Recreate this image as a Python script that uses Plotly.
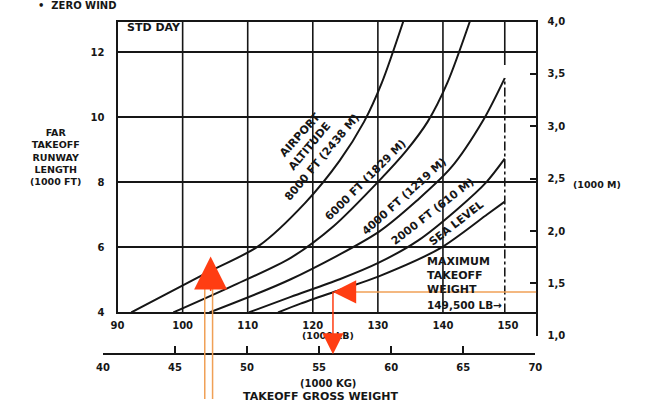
import plotly.graph_objects as go

# ---- data -------------------------------------------------------------
# takeoff gross weight (1000 lb) and FAR takeoff runway length (1000 ft)
alt_8000_wt = [92.10, 104.13, 111.65, 118.87, 124.13, 127.89, 130.60, 133.90]
alt_8000_len = [4.00, 5.26, 6.04, 7.38, 8.67, 9.87, 11.06, 12.95]

alt_6000_wt = [98.57, 107.59, 116.61, 123.23, 130.14, 134.35, 137.66, 140.67, 144.13]
alt_6000_len = [4.00, 4.81, 5.68, 6.66, 8.04, 8.97, 9.87, 11.06, 12.95]

alt_4000_wt = [104.13, 116.61, 130.14, 136.16, 141.27, 146.23, 149.5]
alt_4000_len = [4.00, 5.02, 6.48, 7.47, 8.46, 9.93, 11.21]

alt_2000_wt = [110.15, 116.61, 124.13, 130.14, 136.16, 142.17, 146.68, 149.5]
alt_2000_len = [4.00, 4.48, 5.02, 5.53, 6.21, 7.17, 8.01, 8.73]

sea_level_wt = [114.66, 118.12, 124.13, 130.14, 139.62, 146.83, 149.5]
sea_level_len = [4.00, 4.27, 4.69, 5.11, 5.98, 7.02, 7.41]

lb_ticks = [90, 100, 110, 120, 130, 140, 150]
lb_grid = [100, 110, 120, 130, 140]
ft_ticks = [4, 6, 8, 10, 12]
m_ticks = [1.0, 1.5, 2.0, 2.5, 3.0, 3.5, 4.0]
m_labels = ["1,0", "1,5", "2,0", "2,5", "3,0", "3,5", "4,0"]
kg_ticks = [40, 45, 50, 55, 60, 65, 70]

max_takeoff_wt = 149.5

# example reading: weight entry (lb) -> runway length, runway -> weight (kg)
entry_wt = [103.4, 104.6]
entry_tip = (104.3, 5.72)
runway_entry_len = 4.63
runway_entry_wt = 123.1

# ---- layout helpers ---------------------------------------------------
W, H = 649, 405
INK = "#161616"
FONT = "DejaVu Sans, Verdana, sans-serif"
ORANGE = "#f0a056"
RED = "#ff3d12"
LB_RANGE = [90, 154.35]
FT_RANGE = [4, 12.95]


def px(x, y):
    return x / W, 1 - y / H


fig = go.Figure()

curves = [
    (alt_8000_wt, alt_8000_len),
    (alt_6000_wt, alt_6000_len),
    (alt_4000_wt, alt_4000_len),
    (alt_2000_wt, alt_2000_len),
    (sea_level_wt, sea_level_len),
]
for wt, ln in curves:
    fig.add_trace(go.Scatter(x=wt, y=ln, mode="lines",
                             line=dict(color=INK, width=2, shape="spline", smoothing=0.8),
                             hoverinfo="skip", showlegend=False, cliponaxis=True))

# invisible carriers for the metric axes
fig.add_trace(go.Scatter(x=[90], y=[1.0], xaxis="x2", yaxis="y2", mode="markers",
                         marker=dict(opacity=0), showlegend=False, hoverinfo="skip"))
fig.add_trace(go.Scatter(x=[40], y=[0], xaxis="x3", yaxis="y3", mode="markers",
                         marker=dict(opacity=0), showlegend=False, hoverinfo="skip"))

x_dom = [113 / W, 541 / W]
tickfont = dict(family=FONT, size=10, color=INK, weight="bold")

fig.update_layout(
    width=W, height=H,
    margin=dict(l=0, r=0, t=0, b=0),
    paper_bgcolor="white", plot_bgcolor="rgba(0,0,0,0)",
    showlegend=False,
    xaxis=dict(domain=x_dom, range=LB_RANGE, tickvals=lb_ticks,
               showgrid=False, zeroline=False, showline=True, mirror=True,
               linecolor=INK, linewidth=2.2, ticks="", tickfont=tickfont,
               ticklabelstandoff=2, anchor="y"),
    yaxis=dict(domain=[1 - 316 / H, 1 - 17 / H], range=FT_RANGE, tickvals=ft_ticks,
               showgrid=True, gridcolor=INK, gridwidth=1.6, zeroline=False,
               showline=True, mirror=True, linecolor=INK, linewidth=2.2, ticks="",
               tickfont=tickfont, ticklabelstandoff=9, anchor="x"),
    xaxis2=dict(domain=x_dom, range=LB_RANGE, visible=False, anchor="y2"),
    yaxis2=dict(domain=[1 - 340 / H, 1 - 17 / H], range=[1.0, 4.0], side="right",
                anchor="x2", tickvals=m_ticks, ticktext=m_labels, showgrid=False,
                zeroline=False, showline=True, linecolor=INK, linewidth=2.2,
                ticks="inside", ticklen=6, tickwidth=2, tickcolor=INK,
                tickfont=tickfont, ticklabelstandoff=7),
    xaxis3=dict(domain=[98 / W, 540 / W], range=[40, 70], anchor="y3",
                tickvals=kg_ticks, showgrid=False, zeroline=False, showline=True,
                linecolor=INK, linewidth=2.2, ticks="inside", ticklen=7, tickwidth=2,
                tickcolor=INK, tickfont=tickfont, ticklabelstandoff=4),
    yaxis3=dict(domain=[1 - 358 / H, 1 - 340 / H], range=[0, 1], visible=False,
                anchor="x3"),
)

shapes = []
for g in lb_grid:
    shapes.append(dict(type="line", xref="x", yref="y domain", x0=g, x1=g, y0=0, y1=1,
                       line=dict(color=INK, width=1.6), layer="below"))
# maximum takeoff weight line: dash-dot below the 4000 ft curve end, solid above
shapes.append(dict(type="line", xref="x", yref="y", x0=max_takeoff_wt, x1=max_takeoff_wt,
                   y0=FT_RANGE[0], y1=alt_4000_len[-1],
                   line=dict(color=INK, width=1.6, dash="dashdot"), layer="below"))
shapes.append(dict(type="line", xref="x", yref="y", x0=max_takeoff_wt, x1=max_takeoff_wt,
                   y0=alt_4000_len[-1] + 0.4, y1=FT_RANGE[1], line=dict(color=INK, width=1.6),
                   layer="below"))
# orange reading lines
for w in entry_wt:
    shapes.append(dict(type="line", xref="x", yref="paper", x0=w, x1=w, y0=0,
                       y1=px(0, 290)[1], line=dict(color=ORANGE, width=1.5)))
shapes.append(dict(type="line", xref="x", yref="y", x0=runway_entry_wt + 2.5, x1=LB_RANGE[1],
                   y0=runway_entry_len, y1=runway_entry_len, line=dict(color=ORANGE, width=1.5)))
fig.update_layout(shapes=shapes)

ann = []


def text(x, y, s, size=10, angle=0, xanchor="center", align="center"):
    X, Y = px(x, y)
    ann.append(dict(xref="paper", yref="paper", x=X, y=Y, text=s, showarrow=False,
                    textangle=angle, xanchor=xanchor, yanchor="middle", align=align,
                    font=dict(family=FONT, size=size, color=INK, weight="bold")))


text(30, 0, "•  ZERO WIND", size=10, xanchor="left")
text(121, 23, "STD DAY", size=11, xanchor="left")
text(50, 156, "FAR<br>TAKEOFF<br>RUNWAY<br>LENGTH<br>(1000 FT)", size=9.5)
text(603, 184, "(1000 M)", size=9.5)
text(328, 340, "(1000 LB)", size=9.5)
text(328, 389, "(1000 KG)", size=10)
text(320, 402, "TAKEOFF GROSS WEIGHT", size=11)

text(299, 134, "AIRPORT", size=11, angle=-48)
text(309, 145, "ALTITUDE", size=11, angle=-50)
text(322, 157, "8000 FT (2438 M)", size=11, angle=-50)
text(366, 180, "6000 FT (1829 M)", size=11, angle=-45)
text(406, 197, "4000 FT (1219 M)", size=11, angle=-42)
text(435, 212, "2000 FT (610 M)", size=11, angle=-38)
text(459, 225, "SEA LEVEL", size=11, angle=-38)

text(427, 264, "MAXIMUM", size=11, xanchor="left")
text(427, 278, "TAKEOFF", size=11, xanchor="left")
text(427, 292, "WEIGHT", size=11, xanchor="left")
text(427, 308, "149,500 LB\u2192", size=10.5, xanchor="left")

# arrowheads
ann.append(dict(xref="x", yref="y", x=entry_tip[0], y=entry_tip[1], text="", showarrow=True,
                arrowhead=2, arrowsize=4.4, arrowwidth=1.5, arrowcolor=RED, ax=0, ay=36))
ann.append(dict(xref="x", yref="y", x=runway_entry_wt, y=runway_entry_len, text="",
                showarrow=True, arrowhead=2, arrowsize=3.1, arrowwidth=1.5, arrowcolor=RED,
                ax=24, ay=0))
ann.append(dict(xref="x", yref="paper", x=runway_entry_wt, y=px(0, 359)[1], text="",
                showarrow=True, arrowhead=2, arrowsize=2.8, arrowwidth=1.5, arrowcolor=RED,
                ax=0, ay=-64))
fig.update_layout(annotations=ann)

fig.write_html("out.html")
